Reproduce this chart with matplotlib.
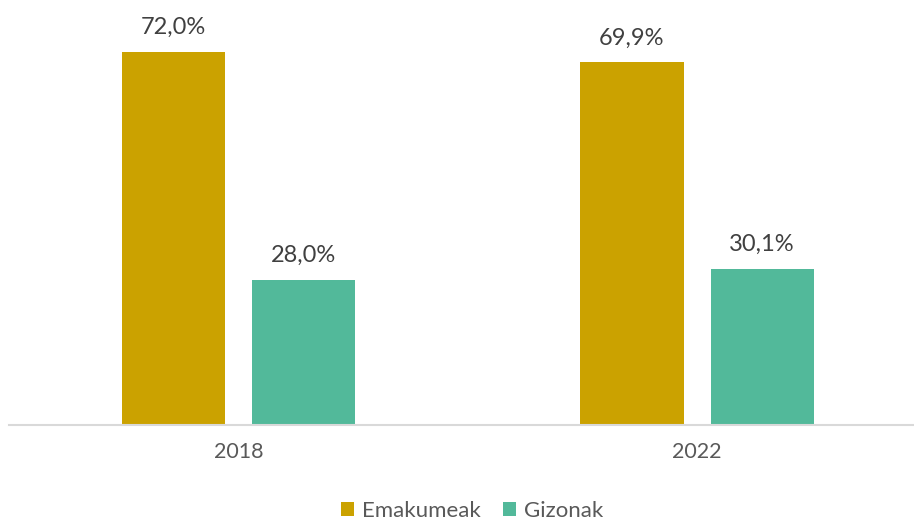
import numpy as np
import matplotlib.pyplot as plt

years = ["2018", "2022"]
emakumeak = [72.0, 69.9]
gizonak = [28.0, 30.1]

plt.rcParams['font.family'] = ['Lato', 'DejaVu Sans']

fig = plt.figure(figsize=(9.14, 5.19), dpi=100)
ax = fig.add_axes([9 / 914, 94 / 519, 905 / 914, 415 / 519])

x = np.arange(len(years))
w = 0.2246
off = 0.1418
gold = "#CBA200"
teal = "#52B99A"

b1 = ax.bar(x - off, emakumeak, w, color=gold, label="Emakumeak")
b2 = ax.bar(x + off, gizonak, w, color=teal, label="Gizonak")

for bars, vals in [(b1, emakumeak), (b2, gizonak)]:
    for r, v in zip(bars, vals):
        ax.annotate(f"{v:.1f}%".replace(".", ","),
                    (r.get_x() + r.get_width() / 2, v),
                    xytext=(0, 10), textcoords="offset points",
                    ha="center", va="bottom", fontsize=17, color="#404040")

ax.set_xlim(-0.5, 1.473)
ax.set_ylim(0, 80)
ax.set_xticks(x)
ax.set_xticklabels(years, fontsize=15.5, color="#595959")
ax.tick_params(axis="x", length=0, pad=12)
ax.set_yticks([])
for s in ["top", "right", "left"]:
    ax.spines[s].set_visible(False)
ax.spines["bottom"].set_color("#D9D9D9")
ax.spines["bottom"].set_linewidth(1.5)

fig.legend(loc="lower center", bbox_to_anchor=(0.5165, -0.042), ncol=2,
           frameon=False, fontsize=16, labelcolor="#595959",
           handlelength=0.6, handleheight=0.6, handletextpad=0.35,
           columnspacing=1.0)

fig.savefig("out.png", dpi=100)
